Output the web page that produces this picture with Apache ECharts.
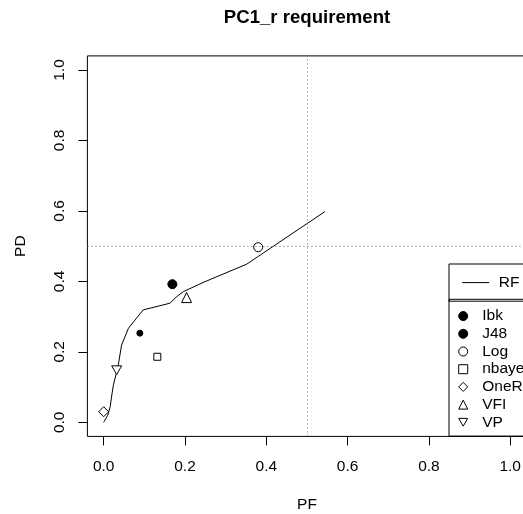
<!DOCTYPE html>
<html><head><meta charset="utf-8">
<script src="https://cdn.jsdelivr.net/npm/echarts@6/dist/echarts.min.js"></script>
<style>html,body{margin:0;padding:0;background:#fff}#c{width:523px;height:514px}</style>
</head><body><div id="c"></div>
<script>
// ---- data ----
const titleText = 'PC1_r requirement';
const xName = 'PF';
const yName = 'PD';
const axisMin = 0, axisMax = 1, axisStep = 0.2;
const rfName = 'RF';
const rfPF = [0, 0.010, 0.016, 0.020, 0.024, 0.030, 0.036, 0.044, 0.061, 0.097, 0.163, 0.180, 0.196, 0.249, 0.352, 0.544];
const rfPD = [0, 0.020, 0.044, 0.077, 0.106, 0.134, 0.163, 0.219, 0.267, 0.319, 0.338, 0.357, 0.371, 0.399, 0.449, 0.598];
const learners = ['Ibk', 'J48', 'Log', 'nbayes', 'OneR', 'VFI', 'VP'];
const learnerPF = [0.169, 0.089, 0.380, 0.132, 0.000, 0.204, 0.032];
const learnerPD = [0.392, 0.253, 0.497, 0.186, 0.030, 0.354, 0.148];
const refPF = 0.5;
const refPD = 0.5;

// ---- styles / layout ----
const FONT = '"Liberation Sans", Arial, Helvetica, sans-serif';
const DOWN_TRI = 'path://M0,0L10,0L5,8.66Z';
const markerStyle = {
  Ibk:    {symbol: 'circle',   size: 9,  fill: '#000'},
  J48:    {symbol: 'circle',   size: 6,  fill: '#000'},
  Log:    {symbol: 'circle',   size: 9,  fill: '#fff'},
  nbayes: {symbol: 'rect',     size: 7,  fill: '#fff'},
  OneR:   {symbol: 'diamond',  size: 10, fill: '#fff'},
  VFI:    {symbol: 'triangle', size: 10, fill: '#fff'},
  VP:     {symbol: DOWN_TRI,   size: 10, fill: '#fff'}
};
const frame = {left: 87.4, top: 55.9, width: 439.1, height: 380.5};
const inner = {left: 103.7, top: 70, width: 406.5, height: 352.3};
const tickLen = 9;
// R's plot region extends the data range by 4% on each side
const pad = 0.04 * (axisMax - axisMin);

const chart = echarts.init(document.getElementById('c'), null, {renderer: 'canvas'});

const series = [{
  name: rfName,
  type: 'line',
  xAxisIndex: 0, yAxisIndex: 0,
  data: rfPF.map((x, i) => [x, rfPD[i]]),
  symbol: 'none',
  lineStyle: {color: '#000', width: 1},
  itemStyle: {color: '#000'},
  z: 3,
  markLine: {
    silent: true,
    symbol: ['none', 'none'],
    label: {show: false},
    lineStyle: {color: '#666', width: 1, type: [1, 3]},
    data: [{xAxis: refPF}, {yAxis: refPD}]
  }
}];
learners.forEach((n, i) => {
  const s = markerStyle[n];
  series.push({
    name: n,
    type: 'scatter',
    xAxisIndex: 0, yAxisIndex: 0,
    data: [[learnerPF[i], learnerPD[i]]],
    symbol: s.symbol,
    symbolSize: s.size,
    symbolKeepAspect: true,
    itemStyle: {color: s.fill, borderColor: '#000', borderWidth: 1, opacity: 1},
    z: 4
  });
});

const hiddenAxis = (grid, min, max) => ({
  type: 'value', gridIndex: grid, min: min, max: max, show: false,
  axisLine: {onZero: false}, splitLine: {show: false}
});
// axes that carry the tick labels and axis titles
const labelAxis = {
  type: 'value', gridIndex: 1, min: axisMin, max: axisMax, interval: axisStep,
  splitLine: {show: false},
  axisLine: {show: false, onZero: false},
  axisTick: {show: false},
  nameLocation: 'middle',
  nameMoveOverlap: false,
  nameTextStyle: {fontFamily: FONT, fontSize: 15.5, color: '#000'}
};
// thin tick bands outside the frame: each tick mark is a split line of a narrow grid
const tickBandAxis = (grid) => ({
  type: 'value', gridIndex: grid, min: axisMin, max: axisMax, interval: axisStep,
  axisLine: {show: false, onZero: false},
  axisTick: {show: false},
  axisLabel: {show: false},
  splitLine: {show: true, lineStyle: {color: '#000', width: 1, type: 'solid'}}
});
const gridBase = {show: false, containLabel: false, outerBoundsMode: 'none'};

chart.setOption({
  animation: false,
  backgroundColor: '#fff',
  title: {
    text: titleText, left: 307, top: 8, textAlign: 'center', padding: 0,
    textStyle: {fontFamily: FONT, fontSize: 18.6, fontWeight: 'bold', color: '#000'}
  },
  grid: [
    Object.assign({}, gridBase, frame, {show: true, borderColor: '#000', borderWidth: 1, backgroundColor: 'transparent'}),
    Object.assign({}, gridBase, inner),
    Object.assign({}, gridBase, {left: inner.left, width: inner.width, top: frame.top + frame.height, height: tickLen}),
    Object.assign({}, gridBase, {left: frame.left - tickLen, width: tickLen, top: inner.top, height: inner.height})
  ],
  xAxis: [
    hiddenAxis(0, axisMin - pad, axisMax + pad),
    Object.assign({}, labelAxis, {
      position: 'bottom', offset: (frame.top + frame.height) - (inner.top + inner.height),
      name: xName, nameGap: 60,
      axisLabel: {margin: 22, fontFamily: FONT, fontSize: 15.5, color: '#000',
        formatter: v => v.toFixed(1)}
    }),
    tickBandAxis(2),
    hiddenAxis(3, 0, 1)
  ],
  yAxis: [
    hiddenAxis(0, axisMin - pad, axisMax + pad),
    Object.assign({}, labelAxis, {
      position: 'left', offset: inner.left - frame.left,
      name: yName, nameGap: 59, nameRotate: 90,
      axisLabel: {margin: 20, rotate: 90, fontFamily: FONT, fontSize: 15.5, color: '#000',
        formatter: v => v.toFixed(1)}
    }),
    hiddenAxis(2, 0, 1),
    tickBandAxis(3)
  ],
  legend: [{
    data: [rfName], orient: 'vertical', left: 449, top: 264,
    itemWidth: 27, itemHeight: 14, itemGap: 0,
    padding: [10.6, 40, 10.6, 12.7],
    borderColor: '#000', borderWidth: 1, borderRadius: 0,
    selectedMode: false,
    itemStyle: {opacity: 0},
    lineStyle: {width: 1, color: '#000'},
    textStyle: {fontFamily: FONT, fontSize: 15.5, color: '#000', lineHeight: 14, padding: [0, 0, 0, 4.6]}
  }, {
    data: learners, orient: 'vertical', left: 449, top: 299.3,
    itemWidth: 9, itemHeight: 9, itemGap: 0,
    padding: [7.95, 40, 5, 9.2],
    borderColor: '#000', borderWidth: 1, borderRadius: 0,
    selectedMode: false,
    itemStyle: {borderWidth: 1, borderColor: '#000'},
    textStyle: {fontFamily: FONT, fontSize: 15.5, color: '#000', lineHeight: 17.7, padding: [0, 0, 0, 9.5]}
  }],
  series: series
});
</script>
</body></html>
